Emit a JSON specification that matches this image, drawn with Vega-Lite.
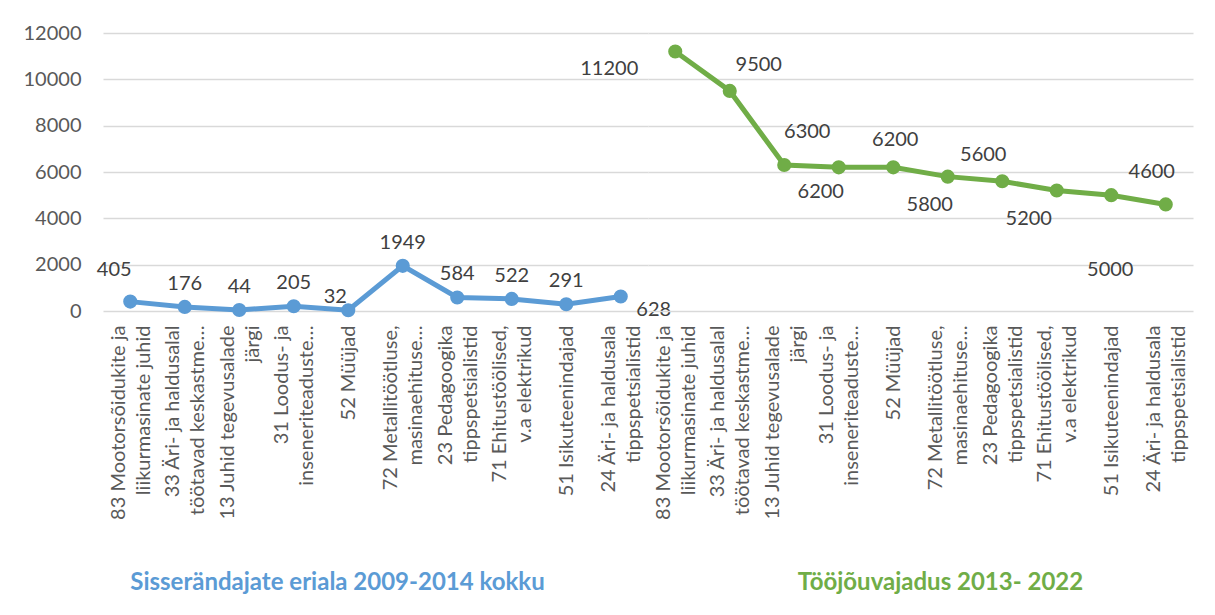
{
  "$schema": "https://vega.github.io/schema/vega-lite/v6.json",
  "background": "white",
  "padding": {"left": 23, "top": 23, "right": 10, "bottom": 5},
  "bounds": "flush",
  "data": {
    "values": [
      {"series": "Sisserändajate eriala 2009-2014 kokku", "idx": 1, "value": 405},
      {"series": "Sisserändajate eriala 2009-2014 kokku", "idx": 2, "value": 176},
      {"series": "Sisserändajate eriala 2009-2014 kokku", "idx": 3, "value": 44},
      {"series": "Sisserändajate eriala 2009-2014 kokku", "idx": 4, "value": 205},
      {"series": "Sisserändajate eriala 2009-2014 kokku", "idx": 5, "value": 32},
      {"series": "Sisserändajate eriala 2009-2014 kokku", "idx": 6, "value": 1949},
      {"series": "Sisserändajate eriala 2009-2014 kokku", "idx": 7, "value": 584},
      {"series": "Sisserändajate eriala 2009-2014 kokku", "idx": 8, "value": 522},
      {"series": "Sisserändajate eriala 2009-2014 kokku", "idx": 9, "value": 291},
      {"series": "Sisserändajate eriala 2009-2014 kokku", "idx": 10, "value": 628},
      {"series": "Tööjõuvajadus 2013- 2022", "idx": 1, "value": 11200},
      {"series": "Tööjõuvajadus 2013- 2022", "idx": 2, "value": 9500},
      {"series": "Tööjõuvajadus 2013- 2022", "idx": 3, "value": 6300},
      {"series": "Tööjõuvajadus 2013- 2022", "idx": 4, "value": 6200},
      {"series": "Tööjõuvajadus 2013- 2022", "idx": 5, "value": 6200},
      {"series": "Tööjõuvajadus 2013- 2022", "idx": 6, "value": 5800},
      {"series": "Tööjõuvajadus 2013- 2022", "idx": 7, "value": 5600},
      {"series": "Tööjõuvajadus 2013- 2022", "idx": 8, "value": 5200},
      {"series": "Tööjõuvajadus 2013- 2022", "idx": 9, "value": 5000},
      {"series": "Tööjõuvajadus 2013- 2022", "idx": 10, "value": 4600}
    ]
  },
  "spacing": 0,
  "resolve": {"scale": {"y": "shared"}},
  "hconcat": [
    {
      "width": 545,
      "height": 278,
      "title": {"text": "Sisserändajate eriala 2009-2014 kokku", "orient": "bottom", "color": "#5B9BD5", "fontSize": 24, "fontWeight": "bold", "font": "Lato", "dx": -38, "offset": 51},
      "transform": [{"filter": "datum.series == 'Sisserändajate eriala 2009-2014 kokku'"}],
      "encoding": {
        "x": {
          "field": "idx", "type": "ordinal", "scale": {"padding": 0.5},
          "axis": {
            "title": null, "labelAngle": -90, "labelOverlap": false, "labelLimit": 400,
            "labelExpr": "split(['83 Mootorsõidukite ja|liikurmasinate juhid','33 Äri- ja haldusalal|töötavad keskastme…','13 Juhid tegevusalade|järgi','31 Loodus- ja|inseneriteaduste…','52 Müüjad','72 Metallitöötluse,|masinaehituse…','23 Pedagoogika|tippspetsialistid','71 Ehitustöölised,|v.a elektrikud','51 Isikuteenindajad','24 Äri- ja haldusala|tippspetsialistid'][datum.value - 1], '|')",
            "labelOffset": {"condition": {"test": "datum.value == 5 || datum.value == 9", "value": 0}, "value": -12},
            "labelFontSize": 20, "labelLineHeight": 25, "labelColor": "#595959", "labelPadding": 14,
            "ticks": false, "domain": false, "grid": false
          }
        },
        "y": {
          "field": "value", "type": "quantitative",
          "scale": {"domain": [0, 12000], "nice": false},
          "axis": {
            "title": null, "format": "d", "values": [0, 2000, 4000, 6000, 8000, 10000, 12000],
            "labelFontSize": 20, "labelColor": "#595959", "labelPadding": 22,
            "ticks": false, "domain": false, "grid": true, "gridColor": "#d9d9d9", "gridWidth": 1.5
          }
        }
      },
      "layer": [
        {"mark": {"type": "line", "color": "#5B9BD5", "strokeWidth": 5}},
        {"mark": {"type": "point", "filled": true, "opacity": 1, "color": "#5B9BD5", "size": 200}},
        {"transform": [{"filter": "indexof([2,3,4,6,7,8,9], datum.idx) >= 0"}],
         "mark": {"type": "text", "dx": 0, "dy": -23, "fontSize": 20, "color": "#404040"},
         "encoding": {"text": {"field": "value", "type": "quantitative", "format": "d"}}},
        {"transform": [{"filter": "datum.idx == 1"}],
         "mark": {"type": "text", "dx": -16, "dy": -32, "fontSize": 20, "color": "#404040"},
         "encoding": {"text": {"field": "value", "type": "quantitative", "format": "d"}}},
        {"transform": [{"filter": "datum.idx == 5"}],
         "mark": {"type": "text", "dx": -13, "dy": -13, "fontSize": 20, "color": "#404040"},
         "encoding": {"text": {"field": "value", "type": "quantitative", "format": "d"}}},
        {"transform": [{"filter": "datum.idx == 10"}],
         "mark": {"type": "text", "dx": 33, "dy": 14, "fontSize": 20, "color": "#404040"},
         "encoding": {"text": {"field": "value", "type": "quantitative", "format": "d"}}}
      ]
    },
    {
      "width": 545,
      "height": 278,
      "title": {"text": "Tööjõuvajadus 2013- 2022", "orient": "bottom", "color": "#70AD47", "fontSize": 24, "fontWeight": "bold", "font": "Lato", "dx": 20, "offset": 51},
      "transform": [{"filter": "datum.series == 'Tööjõuvajadus 2013- 2022'"}],
      "encoding": {
        "x": {
          "field": "idx", "type": "ordinal", "scale": {"padding": 0.5},
          "axis": {
            "title": null, "labelAngle": -90, "labelOverlap": false, "labelLimit": 400,
            "labelExpr": "split(['83 Mootorsõidukite ja|liikurmasinate juhid','33 Äri- ja haldusalal|töötavad keskastme…','13 Juhid tegevusalade|järgi','31 Loodus- ja|inseneriteaduste…','52 Müüjad','72 Metallitöötluse,|masinaehituse…','23 Pedagoogika|tippspetsialistid','71 Ehitustöölised,|v.a elektrikud','51 Isikuteenindajad','24 Äri- ja haldusala|tippspetsialistid'][datum.value - 1], '|')",
            "labelOffset": {"condition": {"test": "datum.value == 5 || datum.value == 9", "value": 0}, "value": -12},
            "labelFontSize": 20, "labelLineHeight": 25, "labelColor": "#595959", "labelPadding": 14,
            "ticks": false, "domain": false, "grid": false
          }
        },
        "y": {
          "field": "value", "type": "quantitative",
          "scale": {"domain": [0, 12000], "nice": false},
          "axis": {
            "title": null, "values": [0, 2000, 4000, 6000, 8000, 10000, 12000],
            "labels": false, "ticks": false, "domain": false, "grid": true, "gridColor": "#d9d9d9", "gridWidth": 1.5
          }
        }
      },
      "layer": [
        {"mark": {"type": "line", "color": "#70AD47", "strokeWidth": 5}},
        {"mark": {"type": "point", "filled": true, "opacity": 1, "color": "#70AD47", "size": 200}},
        {"transform": [{"filter": "datum.idx == 1"}],
         "mark": {"type": "text", "dx": -66, "dy": 17, "fontSize": 20, "color": "#404040"},
         "encoding": {"text": {"field": "value", "type": "quantitative", "format": "d"}}},
        {"transform": [{"filter": "datum.idx == 2"}],
         "mark": {"type": "text", "dx": 29, "dy": -26, "fontSize": 20, "color": "#404040"},
         "encoding": {"text": {"field": "value", "type": "quantitative", "format": "d"}}},
        {"transform": [{"filter": "datum.idx == 3"}],
         "mark": {"type": "text", "dx": 23, "dy": -33, "fontSize": 20, "color": "#404040"},
         "encoding": {"text": {"field": "value", "type": "quantitative", "format": "d"}}},
        {"transform": [{"filter": "datum.idx == 4"}],
         "mark": {"type": "text", "dx": -18, "dy": 25, "fontSize": 20, "color": "#404040"},
         "encoding": {"text": {"field": "value", "type": "quantitative", "format": "d"}}},
        {"transform": [{"filter": "datum.idx == 5"}],
         "mark": {"type": "text", "dx": 2, "dy": -27, "fontSize": 20, "color": "#404040"},
         "encoding": {"text": {"field": "value", "type": "quantitative", "format": "d"}}},
        {"transform": [{"filter": "datum.idx == 6"}],
         "mark": {"type": "text", "dx": -18, "dy": 28, "fontSize": 20, "color": "#404040"},
         "encoding": {"text": {"field": "value", "type": "quantitative", "format": "d"}}},
        {"transform": [{"filter": "datum.idx == 7"}],
         "mark": {"type": "text", "dx": -19, "dy": -26, "fontSize": 20, "color": "#404040"},
         "encoding": {"text": {"field": "value", "type": "quantitative", "format": "d"}}},
        {"transform": [{"filter": "datum.idx == 8"}],
         "mark": {"type": "text", "dx": -28, "dy": 28, "fontSize": 20, "color": "#404040"},
         "encoding": {"text": {"field": "value", "type": "quantitative", "format": "d"}}},
        {"transform": [{"filter": "datum.idx == 9"}],
         "mark": {"type": "text", "dx": -1, "dy": 75, "fontSize": 20, "color": "#404040"},
         "encoding": {"text": {"field": "value", "type": "quantitative", "format": "d"}}},
        {"transform": [{"filter": "datum.idx == 10"}],
         "mark": {"type": "text", "dx": -14, "dy": -32, "fontSize": 20, "color": "#404040"},
         "encoding": {"text": {"field": "value", "type": "quantitative", "format": "d"}}}
      ]
    }
  ],
  "config": {
    "font": "Lato",
    "view": {"stroke": null},
    "text": {"baseline": "middle", "align": "center"}
  }
}
